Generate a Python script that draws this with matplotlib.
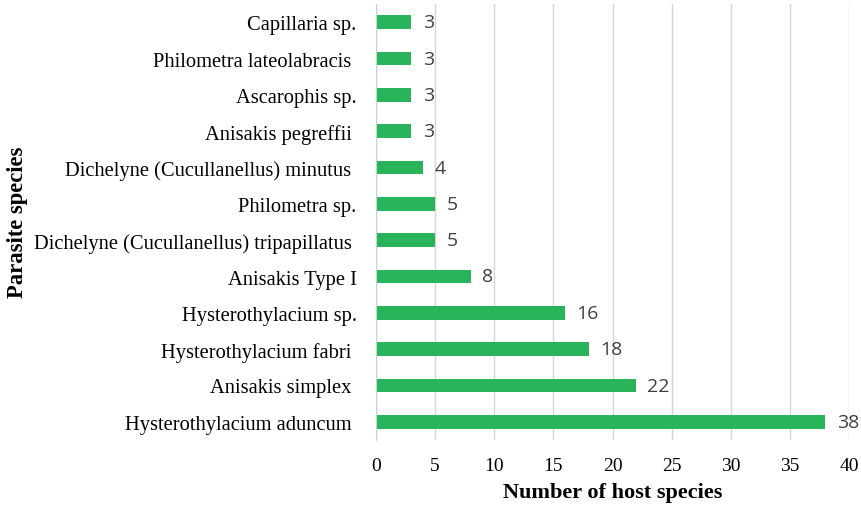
import matplotlib
matplotlib.use("Agg")
import matplotlib.pyplot as plt

species = [
    "Hysterothylacium aduncum ",
    "Anisakis simplex ",
    "Hysterothylacium fabri ",
    "Hysterothylacium sp.",
    "Anisakis Type I",
    "Dichelyne (Cucullanellus) tripapillatus ",
    "Philometra sp.",
    "Dichelyne (Cucullanellus) minutus ",
    "Anisakis pegreffii ",
    "Ascarophis sp.",
    "Philometra lateolabracis ",
    "Capillaria sp.",
]
counts = [38, 22, 18, 16, 8, 5, 5, 4, 3, 3, 3, 3]
xticks = [0, 5, 10, 15, 20, 25, 30, 35, 40]

fig = plt.figure(figsize=(8.61, 5.10), dpi=100)
ax = fig.add_axes([376/861, 1 - 441/510, (849-376)/861, (441-5)/510])

y = list(range(len(species)))
ax.barh(y, counts, height=0.38, color="#29b35b", zorder=3)
for yi, c in zip(y, counts):
    ax.text(c + 0.95, yi, str(c), va="center", ha="left", fontsize=14,
            family="Open Sans", color="#404040")

ax.set_xlim(0, 40)
ax.set_ylim(-0.5, len(species) - 0.5)
ax.set_xticks(xticks)
ax.set_xticklabels([str(t) for t in xticks], family="Liberation Serif", fontsize=14)
ax.set_yticks(y)
ax.set_yticklabels(species, family="Liberation Serif", fontsize=14.8)
ax.tick_params(axis="both", length=0)
ax.tick_params(axis="x", pad=12)
ax.tick_params(axis="y", pad=14)
ax.grid(axis="x", color="#d6d6d6", linewidth=1, zorder=0)
for s in ["top", "right", "bottom"]:
    ax.spines[s].set_visible(False)
ax.spines["left"].set_color("#d0d0d0")
ax.spines["left"].set_zorder(4)

ax.set_xlabel("Number of host species", family="Liberation Serif", fontsize=16,
              fontweight="bold", labelpad=6)
fig.text(18/861, 1 - 222/510, "Parasite species", rotation=90, va="center", ha="center",
         family="Liberation Serif", fontsize=16.3, fontweight="bold")

fig.savefig("out.png", dpi=100)
